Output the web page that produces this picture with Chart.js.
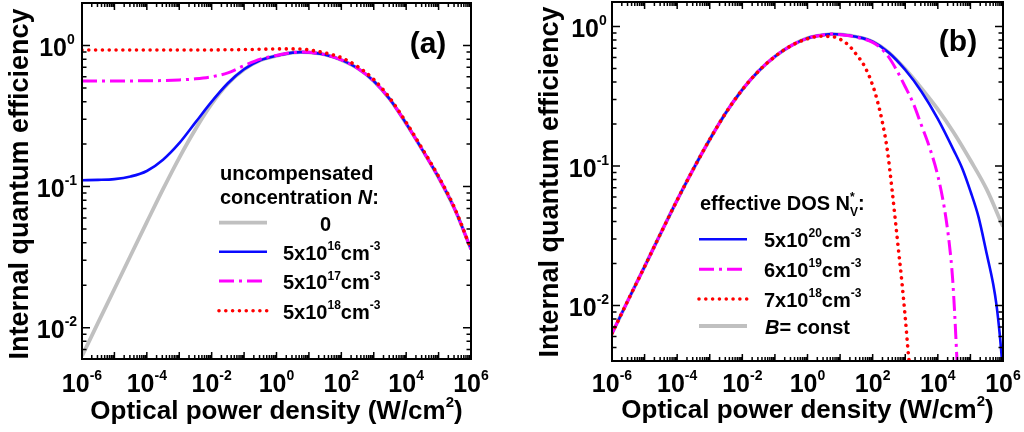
<!DOCTYPE html>
<html>
<head>
<meta charset="utf-8">
<script src="https://cdn.jsdelivr.net/npm/chart.js@4.4.1/dist/chart.umd.min.js"></script>
<style>
  html, body { margin: 0; padding: 0; background: #fff; }
  #wrap { position: relative; width: 1024px; height: 432px; }
  canvas { position: absolute; top: 0; }
</style>
</head>
<body>
<div id="wrap">
  <canvas id="chart_a" width="512" height="432" style="left:0"></canvas>
  <canvas id="chart_b" width="512" height="432" style="left:512px"></canvas>
</div>
<script>
/**
 * values, x given as log10 of the power density (W/cm2)
 */
// panel (a): one x grid for all four curves
let logPowerA = [-6, -5.5, -5, -4.5, -4, -3.5, -3, -2.5, -2, -1.5, -1, -0.5, 0, 0.5, 0.75, 1, 1.5, 2, 2.5, 3, 3.5, 4, 4.5, 5, 5.5, 6];
let iqeA_0 = [0.0063, 0.0109, 0.0188, 0.0325, 0.056, 0.096, 0.16, 0.255, 0.385, 0.535, 0.675, 0.785, 0.845, 0.89, 0.897, 0.893, 0.86, 0.79, 0.69, 0.56, 0.415, 0.28, 0.182, 0.116, 0.069, 0.036];
let iqeA_5e16 = [0.111, 0.1115, 0.113, 0.118, 0.129, 0.155, 0.203, 0.285, 0.40, 0.54, 0.678, 0.785, 0.845, 0.89, 0.897, 0.893, 0.86, 0.79, 0.69, 0.56, 0.415, 0.28, 0.182, 0.116, 0.069, 0.036];
let iqeA_5e17 = [0.56, 0.56, 0.56, 0.561, 0.562, 0.564, 0.57, 0.58, 0.60, 0.64, 0.72, 0.80, 0.85, 0.892, 0.898, 0.894, 0.86, 0.79, 0.69, 0.56, 0.415, 0.28, 0.182, 0.116, 0.069, 0.036];
let iqeA_5e18 = [0.93, 0.93, 0.93, 0.93, 0.93, 0.93, 0.93, 0.93, 0.93, 0.932, 0.935, 0.94, 0.945, 0.946, 0.945, 0.93, 0.885, 0.82, 0.71, 0.575, 0.422, 0.285, 0.185, 0.118, 0.07, 0.036];

// panel (b): common rising part, then each curve's own tail
let logPowerLowB = [-6, -5.5, -5, -4.5, -4, -3.5, -3, -2.5, -2, -1.5, -1, -0.5];
let iqeLowB = [0.0063, 0.011, 0.019, 0.0331, 0.057, 0.0955, 0.155, 0.242, 0.353, 0.48, 0.61, 0.73];
let logPowerB_5e20 = [0, 0.5, 0.75, 1, 1.5, 2, 2.5, 3, 3.5, 4, 4.5, 4.75, 5, 5.25, 5.5, 5.7, 5.8, 5.9, 6];
let iqeB_5e20 = [0.826, 0.872, 0.884, 0.878, 0.845, 0.78, 0.65, 0.49, 0.341, 0.218, 0.128, 0.096, 0.066, 0.043, 0.0235, 0.0142, 0.0101, 0.0062, 0.0033];
let logPowerB_6e19 = [0, 0.5, 0.75, 1, 1.5, 2, 2.25, 2.5, 2.75, 3, 3.25, 3.5, 3.75, 4, 4.2, 4.35, 4.45, 4.52, 4.56, 4.6];
let iqeB_6e19 = [0.826, 0.872, 0.884, 0.875, 0.84, 0.77, 0.70, 0.60, 0.48, 0.37, 0.28, 0.195, 0.135, 0.085, 0.05, 0.028, 0.016, 0.0085, 0.0055, 0.0035];
let logPowerB_7e18 = [0, 0.4, 0.75, 1, 1.25, 1.5, 1.75, 2, 2.15, 2.3, 2.45, 2.6, 2.75, 2.9, 3, 3.1, 3.15];
let iqeB_7e18 = [0.818, 0.852, 0.848, 0.81, 0.74, 0.63, 0.52, 0.38, 0.29, 0.205, 0.13, 0.066, 0.031, 0.0145, 0.0082, 0.0044, 0.0035];
let logPowerB_const = [0, 0.5, 0.75, 1, 1.5, 2, 2.5, 3, 3.5, 4, 4.5, 5, 5.5, 6];
let iqeB_const = [0.826, 0.872, 0.884, 0.878, 0.845, 0.78, 0.65, 0.495, 0.36, 0.255, 0.172, 0.11, 0.068, 0.0368];

// tick labels (exponents of ten)
let xTickExp = [-6, -4, -2, 0, 2, 4, 6];
let yTickExp = [-2, -1, 0];

const FONT = '"Liberation Sans", Arial, Helvetica, sans-serif';
const GRAY = 'rgb(192, 192, 192)';
const BLUE = 'rgb(10, 10, 255)';
const MAGENTA = 'rgb(255, 0, 255)';
const RED = 'rgb(255, 0, 0)';


/**
 * turns log10 x values and y values into chart points
 */
function toPoints(logX, y) {
    return logX.map((e, i) => ({ x: Math.pow(10, e), y: y[i] }));
}


function withLowB(logX, y) {
    return toPoints(logPowerLowB.concat(logX), iqeLowB.concat(y));
}


function bold(size, italic) {
    return (italic ? 'italic ' : '') + 'bold ' + size + 'px ' + FONT;
}


/**
 * small markup: ^{sup} _{sub} ~{italic}
 */
function richTokens(s) {
    let out = [];
    s.split(/(\^\{[^}]*\}|_\{[^}]*\}|~\{[^}]*\})/).forEach(p => {
        if (!p) return;
        if (p.startsWith('^{')) out.push({ t: p.slice(2, -1), k: 'sup' });
        else if (p.startsWith('_{')) out.push({ t: p.slice(2, -1), k: 'sub' });
        else if (p.startsWith('~{')) out.push({ t: p.slice(2, -1), k: 'it' });
        else out.push({ t: p, k: 'n' });
    });
    return out;
}


function drawRich(ctx, x, y, s, size, align, ratio) {
    let small = Math.round(size * (ratio || 0.57));
    let items = [];
    let cx = 0;
    let last = null;
    richTokens(s).forEach(tk => {
        let font = bold(size, tk.k === 'it');
        let dy = 0;
        if (tk.k === 'sup') { font = bold(small); dy = -size * 0.47; }
        if (tk.k === 'sub') { font = bold(small); dy = size * 0.28; }
        ctx.font = font;
        let w = ctx.measureText(tk.t).width;
        let px = cx;
        if (tk.k === 'sup' && last && last.k === 'sub') {
            px = last.x;
            cx = Math.max(cx, px + w);
        } else {
            cx += w;
        }
        last = { t: tk.t, font: font, x: px, dy: dy, k: tk.k };
        items.push(last);
    });
    let x0 = align === 'center' ? x - cx / 2 : x;
    ctx.textAlign = 'left';
    ctx.textBaseline = 'alphabetic';
    items.forEach(it => {
        ctx.font = it.font;
        ctx.fillText(it.t, x0 + it.x, y + it.dy);
    });
}


/**
 * layout of frame, labels and legend for each canvas
 */
const frames = {
    chart_a: {
        yTitleX: 28, yTitleY: 184, xTitleY: 419, tickLabelY: 392, yLabelX: 57,
        tag: '(a)', tagX: 428, tagY: 53,
        legendTitle: [['uncompensated', 220, 180], ['concentration ~{N}:', 220, 204]],
        legendX0: 219, legendX1: 267, legendTextX: [320, 283, 283, 283], legendY: [222.7, 251.7, 281, 310.7], legendDy: 8
    },
    chart_b: {
        yTitleX: 46, yTitleY: 182, xTitleY: 418, tickLabelY: 392, yLabelX: 77,
        tag: '(b)', tagX: 446, tagY: 51,
        legendTitle: [['effective DOS N_{V}^{*}:', 188, 210]],
        legendX0: 187, legendX1: 235, legendTextX: [252, 252, 252, 253], legendY: [239.3, 269.3, 299, 326], legendDy: 7.5
    }
};


const framePlugin = {
    id: 'frame',
    afterDatasetsDraw(chart) {
        let f = frames[chart.canvas.id];
        let ctx = chart.ctx;
        let a = chart.chartArea;
        let xs = chart.scales.x;
        let ys = chart.scales.y;
        ctx.save();
        ctx.fillStyle = '#000';
        ctx.strokeStyle = '#000';

        // inward ticks on all four sides
        ctx.lineWidth = 1.5;
        ctx.beginPath();
        for (let e = -6; e < 6; e++) {
            for (let m = 1; m < 10; m++) {
                let px = xs.getPixelForValue(m * Math.pow(10, e));
                if (px <= a.left + 1) continue;
                let len = m === 1 ? 7 : 4;
                ctx.moveTo(px, a.bottom); ctx.lineTo(px, a.bottom - len);
                ctx.moveTo(px, a.top); ctx.lineTo(px, a.top + len);
            }
        }
        let eMin = Math.floor(Math.log10(ys.min));
        let eMax = Math.ceil(Math.log10(ys.max));
        for (let e = eMin; e <= eMax; e++) {
            for (let m = 1; m < 10; m++) {
                let v = m * Math.pow(10, e);
                if (v <= ys.min || v >= ys.max) continue;
                let py = ys.getPixelForValue(v);
                let len = m === 1 ? 8 : 4.5;
                ctx.moveTo(a.left, py); ctx.lineTo(a.left + len, py);
                ctx.moveTo(a.right, py); ctx.lineTo(a.right - len, py);
            }
        }
        ctx.stroke();

        ctx.lineWidth = 2;
        ctx.strokeRect(a.left, a.top, a.right - a.left, a.bottom - a.top);

        // tick labels
        xTickExp.forEach(e => {
            drawRich(ctx, xs.getPixelForValue(Math.pow(10, e)), f.tickLabelY, '10^{' + e + '}', 25, 'center');
        });
        yTickExp.forEach(e => {
            drawRich(ctx, f.yLabelX, ys.getPixelForValue(Math.pow(10, e)) + 10.5, '10^{' + e + '}', 25, 'center');
        });

        // axis titles
        drawRich(ctx, (a.left + a.right) / 2, f.xTitleY, 'Optical power density (W/cm^{2})', 26, 'center');
        ctx.save();
        ctx.translate(f.yTitleX, f.yTitleY);
        ctx.rotate(-Math.PI / 2);
        drawRich(ctx, 0, 0, 'Internal quantum efficiency', 27, 'center');
        ctx.restore();

        // panel tag
        drawRich(ctx, f.tagX, f.tagY, f.tag, 30, 'center');

        // legend
        f.legendTitle.forEach(t => drawRich(ctx, t[1], t[2], t[0], 20, 'left', 0.62));
        chart.data.datasets.forEach((ds, i) => {
            let ly = f.legendY[i];
            ctx.save();
            ctx.strokeStyle = ds.borderColor;
            ctx.lineWidth = ds.borderWidth;
            ctx.lineCap = ds.borderCapStyle || 'butt';
            ctx.setLineDash(ds.borderDash || []);
            ctx.beginPath();
            ctx.moveTo(f.legendX0, ly);
            ctx.lineTo(f.legendX1, ly);
            ctx.stroke();
            ctx.restore();
            drawRich(ctx, f.legendTextX[i], ly + f.legendDy, ds.label, 20, 'left', 0.62);
        });
        ctx.restore();
    }
};


function grayLine(label, data) {
    return { label: label, data: data, borderColor: GRAY, borderWidth: 3.8, order: 4 };
}

function blueLine(label, data) {
    return { label: label, data: data, borderColor: BLUE, borderWidth: 2.6, order: 3 };
}

function magentaLine(label, data) {
    return { label: label, data: data, borderColor: MAGENTA, borderWidth: 3, borderDash: [15, 5, 3, 5], order: 2 };
}

function redLine(label, data) {
    return { label: label, data: data, borderColor: RED, borderWidth: 3.6, borderDash: [0.01, 6.8], borderCapStyle: 'round', order: 1 };
}


function makeChart(id, datasets, yMin, yMax, padding) {
    return new Chart(document.getElementById(id), {
        type: 'line',
        data: { datasets: datasets },
        options: {
            responsive: false,
            animation: false,
            events: [],
            layout: { padding: padding },
            elements: {
                point: { radius: 0 },
                line: { cubicInterpolationMode: 'monotone', fill: false }
            },
            datasets: { line: { clip: 1 } },
            scales: {
                x: { type: 'logarithmic', min: 1e-6, max: 1e6, display: false },
                y: { type: 'logarithmic', min: yMin, max: yMax, display: false }
            },
            plugins: {
                legend: { display: false },
                tooltip: { enabled: false }
            }
        },
        plugins: [framePlugin]
    });
}


const chartA = makeChart('chart_a', [
    grayLine('0', toPoints(logPowerA, iqeA_0)),
    blueLine('5x10^{16}cm^{-3}', toPoints(logPowerA, iqeA_5e16)),
    magentaLine('5x10^{17}cm^{-3}', toPoints(logPowerA, iqeA_5e17)),
    redLine('5x10^{18}cm^{-3}', toPoints(logPowerA, iqeA_5e18))
], 0.006, 2, { left: 82, right: 41, top: 3, bottom: 73 });

const chartB = makeChart('chart_b', [
    blueLine('5x10^{20}cm^{-3}', withLowB(logPowerB_5e20, iqeB_5e20)),
    magentaLine('6x10^{19}cm^{-3}', withLowB(logPowerB_6e19, iqeB_6e19)),
    redLine('7x10^{18}cm^{-3}', withLowB(logPowerB_7e18, iqeB_7e18)),
    grayLine('~{B}= const', withLowB(logPowerB_const, iqeB_const))
], 0.004, 1.5, { left: 100, right: 21, top: 2, bottom: 71 });
</script>
</body>
</html>
